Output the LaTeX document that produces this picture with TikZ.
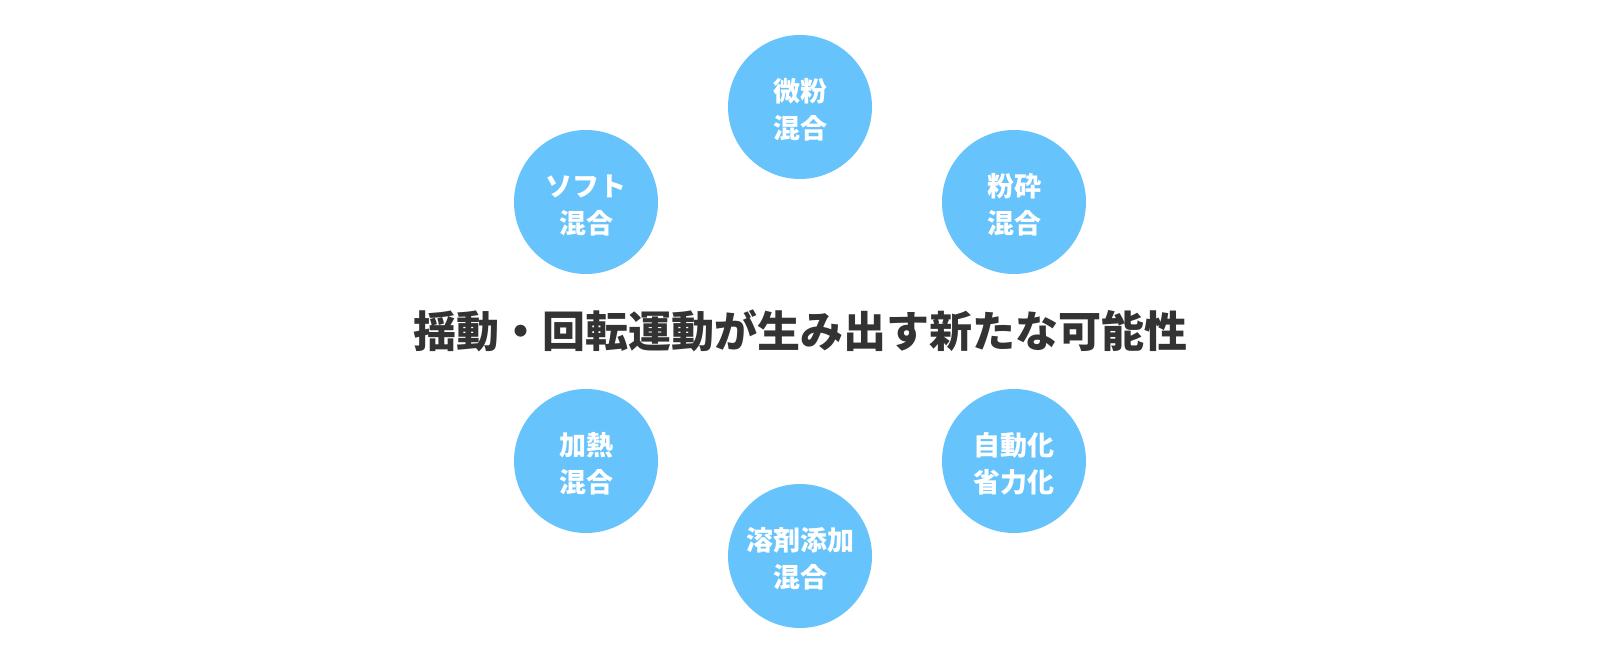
\documentclass[tikz,border=0pt]{standalone}
\usepackage{fontspec}
\newfontfamily\jpfont{Noto Sans CJK JP}
\definecolor{circblue}{HTML}{67C3FB}
\definecolor{titlegray}{HTML}{333333}

\begin{document}
\begin{tikzpicture}[x=1pt,y=-1pt,
			main node/.style={circle,fill=circblue,minimum size=144pt,inner sep=0pt,align=center,
				text=white,font=\jpfont\bfseries\fontsize{27pt}{37pt}\selectfont,
				text height=66pt},
			title node/.style={text=titlegray,font=\jpfont\bfseries\fontsize{43pt}{50pt}\selectfont}]
			\useasboundingbox (0,0) rectangle (1600,660);
			\node[main node] (1) at (800,107) {微粉\\混合};
			\node[main node] (2) at (586,202) {ソフト\\混合};
			\node[main node] (3) at (1014,202) {粉砕\\混合};
			\node[main node] (4) at (586,461) {加熱\\混合};
			\node[main node] (5) at (1014,461) {自動化\\省力化};
			\node[main node] (6) at (800,556) {溶剤添加\\混合};
			\node[title node] (t) at (800,331) {揺動・回転運動が生み出す新たな可能性};
			
			\end{tikzpicture}
\end{document}
